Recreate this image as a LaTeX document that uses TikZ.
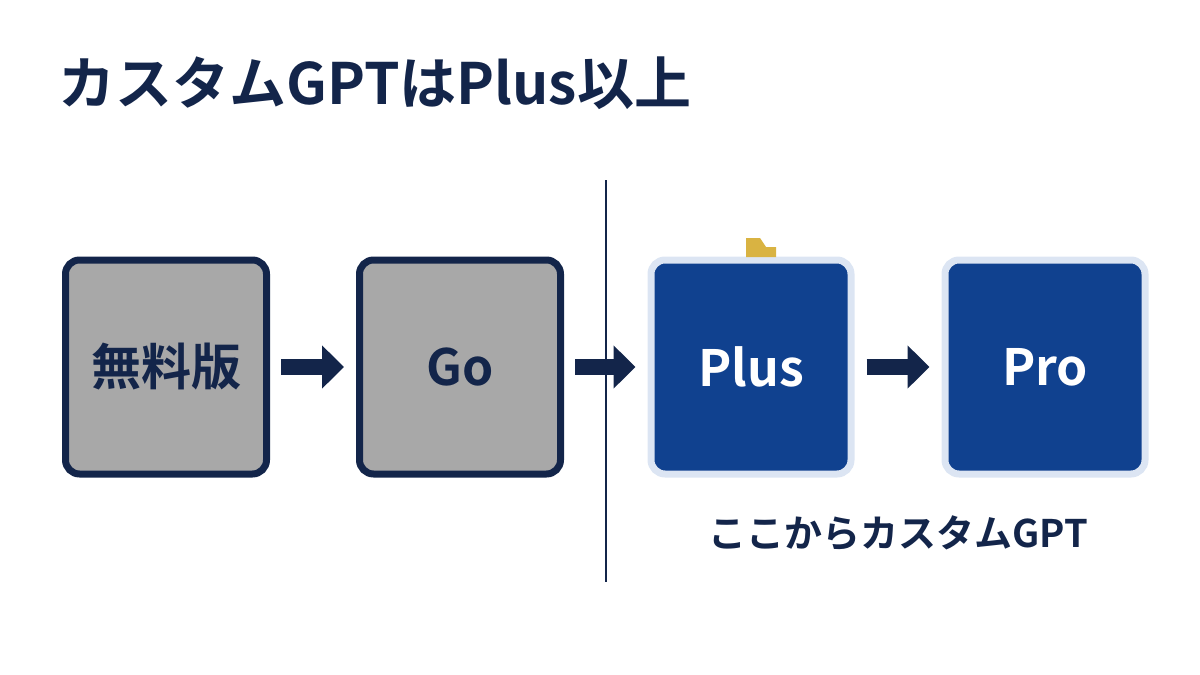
\documentclass[tikz,border=0pt]{standalone}
\usepackage{fontspec}
\setmainfont{Noto Sans CJK JP}[BoldFont={* Bold}]
\usepackage{tikz}
\usetikzlibrary{arrows.meta}
\definecolor{navy}{HTML}{13254A}
\definecolor{plangray}{HTML}{A8A8A8}
\definecolor{planblue}{HTML}{10418F}
\definecolor{paleblue}{HTML}{DCE5F3}
\definecolor{gold}{HTML}{D9B342}
\tikzset{
  freebox/.style={draw=navy,line width=7pt,fill=plangray,rounded corners=14pt,minimum width=201pt,minimum height=214pt,inner sep=0pt,font=\fontsize{50}{50}\bfseries,text=navy},
  paidbox/.style={draw=paleblue,line width=7pt,fill=planblue,rounded corners=14pt,minimum width=200pt,minimum height=214pt,inner sep=0pt,font=\fontsize{50}{50}\bfseries,text=white},
  flow/.style={draw=navy,line width=16pt,-{Triangle[length=22pt,width=42pt]}}
}
\begin{document}
\begin{tikzpicture}[x=1pt,y=1pt,yscale=-1]
\useasboundingbox (0,0) rectangle (1200,675);

% Title
\node (title) [anchor=base west,inner sep=0pt,font=\fontsize{57}{57}\bfseries,text=navy] at (58,104) {カスタムGPTはPlus以上};

% Divider
\coordinate (divtop) at (606,180);
\coordinate (divbot) at (606,582);
\draw [navy,line width=1.5pt] (divtop) -- (divbot);

% Plans
\node (free) [freebox] at (166,367) {無料版};
\node (go) [freebox] at (460,367) {Go};
\node (plus) [paidbox] at (751,367) {Plus};
\node (pro) [paidbox] at (1045,367) {Pro};

% Tab
\fill [gold] (746,257) -- (746,238) -- (760,238) -- (766,247) -- (776,247) -- (776,257) -- cycle;

% Arrows
\draw [flow] ([xshift=11pt]free.east) -- ([xshift=-12pt]go.west);
\draw [flow] ([xshift=11pt]go.east) -- ([xshift=-12pt]plus.west);
\draw [flow] ([xshift=12pt]plus.east) -- ([xshift=-12pt]pro.west);

% Caption
\node (note) [font=\fontsize{38}{38}\bfseries,text=navy] at (898,533) {ここからカスタムGPT};
\end{tikzpicture}
\end{document}
